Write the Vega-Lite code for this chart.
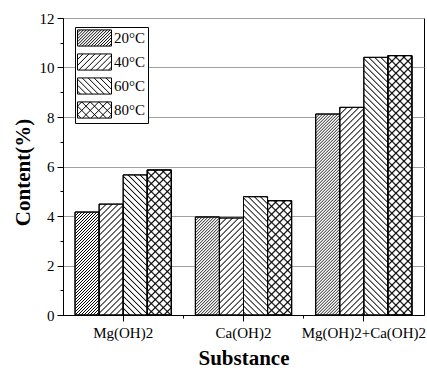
{
"$schema":"https://vega.github.io/schema/vega-lite/v6.json",
"width":361,"height":297,
"autosize":"none",
"padding":{"left":63,"top":18,"right":3,"bottom":55},
"params":[
{"name":"dense","value":[{"offset":0,"color":"#0000"},{"offset":0.003,"color":"#000"},{"offset":0.006,"color":"#0000"},{"offset":0.01,"color":"#0000"},{"offset":0.013,"color":"#000"},{"offset":0.016,"color":"#0000"},{"offset":0.02,"color":"#0000"},{"offset":0.023,"color":"#000"},{"offset":0.026,"color":"#0000"},{"offset":0.03,"color":"#0000"},{"offset":0.033,"color":"#000"},{"offset":0.036,"color":"#0000"},{"offset":0.04,"color":"#0000"},{"offset":0.043,"color":"#000"},{"offset":0.046,"color":"#0000"},{"offset":0.05,"color":"#0000"},{"offset":0.053,"color":"#000"},{"offset":0.056,"color":"#0000"},{"offset":0.06,"color":"#0000"},{"offset":0.063,"color":"#000"},{"offset":0.066,"color":"#0000"},{"offset":0.07,"color":"#0000"},{"offset":0.073,"color":"#000"},{"offset":0.076,"color":"#0000"},{"offset":0.08,"color":"#0000"},{"offset":0.083,"color":"#000"},{"offset":0.086,"color":"#0000"},{"offset":0.09,"color":"#0000"},{"offset":0.093,"color":"#000"},{"offset":0.096,"color":"#0000"},{"offset":0.1,"color":"#0000"},{"offset":0.103,"color":"#000"},{"offset":0.106,"color":"#0000"},{"offset":0.11,"color":"#0000"},{"offset":0.113,"color":"#000"},{"offset":0.116,"color":"#0000"},{"offset":0.12,"color":"#0000"},{"offset":0.123,"color":"#000"},{"offset":0.126,"color":"#0000"},{"offset":0.13,"color":"#0000"},{"offset":0.133,"color":"#000"},{"offset":0.136,"color":"#0000"},{"offset":0.14,"color":"#0000"},{"offset":0.143,"color":"#000"},{"offset":0.146,"color":"#0000"},{"offset":0.15,"color":"#0000"},{"offset":0.153,"color":"#000"},{"offset":0.156,"color":"#0000"},{"offset":0.16,"color":"#0000"},{"offset":0.163,"color":"#000"},{"offset":0.166,"color":"#0000"},{"offset":0.17,"color":"#0000"},{"offset":0.173,"color":"#000"},{"offset":0.176,"color":"#0000"},{"offset":0.18,"color":"#0000"},{"offset":0.183,"color":"#000"},{"offset":0.186,"color":"#0000"},{"offset":0.19,"color":"#0000"},{"offset":0.193,"color":"#000"},{"offset":0.196,"color":"#0000"},{"offset":0.2,"color":"#0000"},{"offset":0.203,"color":"#000"},{"offset":0.206,"color":"#0000"},{"offset":0.21,"color":"#0000"},{"offset":0.213,"color":"#000"},{"offset":0.216,"color":"#0000"},{"offset":0.22,"color":"#0000"},{"offset":0.223,"color":"#000"},{"offset":0.226,"color":"#0000"},{"offset":0.23,"color":"#0000"},{"offset":0.233,"color":"#000"},{"offset":0.236,"color":"#0000"},{"offset":0.24,"color":"#0000"},{"offset":0.243,"color":"#000"},{"offset":0.246,"color":"#0000"},{"offset":0.25,"color":"#0000"},{"offset":0.253,"color":"#000"},{"offset":0.256,"color":"#0000"},{"offset":0.26,"color":"#0000"},{"offset":0.263,"color":"#000"},{"offset":0.266,"color":"#0000"},{"offset":0.27,"color":"#0000"},{"offset":0.273,"color":"#000"},{"offset":0.276,"color":"#0000"},{"offset":0.28,"color":"#0000"},{"offset":0.283,"color":"#000"},{"offset":0.286,"color":"#0000"},{"offset":0.29,"color":"#0000"},{"offset":0.293,"color":"#000"},{"offset":0.296,"color":"#0000"},{"offset":0.3,"color":"#0000"},{"offset":0.303,"color":"#000"},{"offset":0.306,"color":"#0000"},{"offset":0.31,"color":"#0000"},{"offset":0.313,"color":"#000"},{"offset":0.316,"color":"#0000"},{"offset":0.32,"color":"#0000"},{"offset":0.323,"color":"#000"},{"offset":0.326,"color":"#0000"},{"offset":0.33,"color":"#0000"},{"offset":0.333,"color":"#000"},{"offset":0.336,"color":"#0000"},{"offset":0.34,"color":"#0000"},{"offset":0.343,"color":"#000"},{"offset":0.346,"color":"#0000"},{"offset":0.35,"color":"#0000"},{"offset":0.353,"color":"#000"},{"offset":0.356,"color":"#0000"},{"offset":0.36,"color":"#0000"},{"offset":0.363,"color":"#000"},{"offset":0.366,"color":"#0000"},{"offset":0.37,"color":"#0000"},{"offset":0.373,"color":"#000"},{"offset":0.376,"color":"#0000"},{"offset":0.38,"color":"#0000"},{"offset":0.383,"color":"#000"},{"offset":0.386,"color":"#0000"},{"offset":0.39,"color":"#0000"},{"offset":0.393,"color":"#000"},{"offset":0.396,"color":"#0000"},{"offset":0.4,"color":"#0000"},{"offset":0.403,"color":"#000"},{"offset":0.406,"color":"#0000"},{"offset":0.41,"color":"#0000"},{"offset":0.413,"color":"#000"},{"offset":0.416,"color":"#0000"},{"offset":0.42,"color":"#0000"},{"offset":0.423,"color":"#000"},{"offset":0.426,"color":"#0000"},{"offset":0.43,"color":"#0000"},{"offset":0.433,"color":"#000"},{"offset":0.436,"color":"#0000"},{"offset":0.44,"color":"#0000"},{"offset":0.443,"color":"#000"},{"offset":0.446,"color":"#0000"},{"offset":0.45,"color":"#0000"},{"offset":0.453,"color":"#000"},{"offset":0.456,"color":"#0000"},{"offset":0.46,"color":"#0000"},{"offset":0.463,"color":"#000"},{"offset":0.466,"color":"#0000"},{"offset":0.47,"color":"#0000"},{"offset":0.473,"color":"#000"},{"offset":0.476,"color":"#0000"},{"offset":0.48,"color":"#0000"},{"offset":0.483,"color":"#000"},{"offset":0.486,"color":"#0000"},{"offset":0.49,"color":"#0000"},{"offset":0.493,"color":"#000"},{"offset":0.496,"color":"#0000"},{"offset":0.5,"color":"#0000"},{"offset":0.503,"color":"#000"},{"offset":0.506,"color":"#0000"},{"offset":0.51,"color":"#0000"},{"offset":0.513,"color":"#000"},{"offset":0.516,"color":"#0000"},{"offset":0.52,"color":"#0000"},{"offset":0.523,"color":"#000"},{"offset":0.526,"color":"#0000"},{"offset":0.53,"color":"#0000"},{"offset":0.533,"color":"#000"},{"offset":0.536,"color":"#0000"},{"offset":0.54,"color":"#0000"},{"offset":0.543,"color":"#000"},{"offset":0.546,"color":"#0000"},{"offset":0.55,"color":"#0000"},{"offset":0.553,"color":"#000"},{"offset":0.556,"color":"#0000"},{"offset":0.56,"color":"#0000"},{"offset":0.563,"color":"#000"},{"offset":0.566,"color":"#0000"},{"offset":0.57,"color":"#0000"},{"offset":0.573,"color":"#000"},{"offset":0.576,"color":"#0000"},{"offset":0.58,"color":"#0000"},{"offset":0.583,"color":"#000"},{"offset":0.586,"color":"#0000"},{"offset":0.59,"color":"#0000"},{"offset":0.593,"color":"#000"},{"offset":0.596,"color":"#0000"},{"offset":0.6,"color":"#0000"},{"offset":0.603,"color":"#000"},{"offset":0.606,"color":"#0000"},{"offset":0.61,"color":"#0000"},{"offset":0.613,"color":"#000"},{"offset":0.616,"color":"#0000"},{"offset":0.62,"color":"#0000"},{"offset":0.623,"color":"#000"},{"offset":0.626,"color":"#0000"},{"offset":0.63,"color":"#0000"},{"offset":0.633,"color":"#000"},{"offset":0.636,"color":"#0000"},{"offset":0.64,"color":"#0000"},{"offset":0.643,"color":"#000"},{"offset":0.646,"color":"#0000"},{"offset":0.65,"color":"#0000"},{"offset":0.653,"color":"#000"},{"offset":0.656,"color":"#0000"},{"offset":0.66,"color":"#0000"},{"offset":0.663,"color":"#000"},{"offset":0.666,"color":"#0000"},{"offset":0.67,"color":"#0000"},{"offset":0.673,"color":"#000"},{"offset":0.676,"color":"#0000"},{"offset":0.68,"color":"#0000"},{"offset":0.683,"color":"#000"},{"offset":0.686,"color":"#0000"},{"offset":0.69,"color":"#0000"},{"offset":0.693,"color":"#000"},{"offset":0.696,"color":"#0000"},{"offset":0.7,"color":"#0000"},{"offset":0.703,"color":"#000"},{"offset":0.706,"color":"#0000"},{"offset":0.71,"color":"#0000"},{"offset":0.713,"color":"#000"},{"offset":0.716,"color":"#0000"},{"offset":0.72,"color":"#0000"},{"offset":0.723,"color":"#000"},{"offset":0.726,"color":"#0000"},{"offset":0.73,"color":"#0000"},{"offset":0.733,"color":"#000"},{"offset":0.736,"color":"#0000"},{"offset":0.74,"color":"#0000"},{"offset":0.743,"color":"#000"},{"offset":0.746,"color":"#0000"},{"offset":0.75,"color":"#0000"},{"offset":0.753,"color":"#000"},{"offset":0.756,"color":"#0000"},{"offset":0.76,"color":"#0000"},{"offset":0.763,"color":"#000"},{"offset":0.766,"color":"#0000"},{"offset":0.77,"color":"#0000"},{"offset":0.773,"color":"#000"},{"offset":0.776,"color":"#0000"}]},
{"name":"sparse","value":[{"offset":0,"color":"#0000"},{"offset":0.004,"color":"#000"},{"offset":0.008,"color":"#0000"},{"offset":0.02,"color":"#0000"},{"offset":0.024,"color":"#000"},{"offset":0.028,"color":"#0000"},{"offset":0.04,"color":"#0000"},{"offset":0.044,"color":"#000"},{"offset":0.048,"color":"#0000"},{"offset":0.06,"color":"#0000"},{"offset":0.064,"color":"#000"},{"offset":0.068,"color":"#0000"},{"offset":0.08,"color":"#0000"},{"offset":0.084,"color":"#000"},{"offset":0.088,"color":"#0000"},{"offset":0.1,"color":"#0000"},{"offset":0.104,"color":"#000"},{"offset":0.108,"color":"#0000"},{"offset":0.12,"color":"#0000"},{"offset":0.124,"color":"#000"},{"offset":0.128,"color":"#0000"},{"offset":0.14,"color":"#0000"},{"offset":0.144,"color":"#000"},{"offset":0.148,"color":"#0000"},{"offset":0.16,"color":"#0000"},{"offset":0.164,"color":"#000"},{"offset":0.168,"color":"#0000"},{"offset":0.18,"color":"#0000"},{"offset":0.184,"color":"#000"},{"offset":0.188,"color":"#0000"},{"offset":0.2,"color":"#0000"},{"offset":0.204,"color":"#000"},{"offset":0.208,"color":"#0000"},{"offset":0.22,"color":"#0000"},{"offset":0.224,"color":"#000"},{"offset":0.228,"color":"#0000"},{"offset":0.24,"color":"#0000"},{"offset":0.244,"color":"#000"},{"offset":0.248,"color":"#0000"},{"offset":0.26,"color":"#0000"},{"offset":0.264,"color":"#000"},{"offset":0.268,"color":"#0000"},{"offset":0.28,"color":"#0000"},{"offset":0.284,"color":"#000"},{"offset":0.288,"color":"#0000"},{"offset":0.3,"color":"#0000"},{"offset":0.304,"color":"#000"},{"offset":0.308,"color":"#0000"},{"offset":0.32,"color":"#0000"},{"offset":0.324,"color":"#000"},{"offset":0.328,"color":"#0000"},{"offset":0.34,"color":"#0000"},{"offset":0.344,"color":"#000"},{"offset":0.348,"color":"#0000"},{"offset":0.36,"color":"#0000"},{"offset":0.364,"color":"#000"},{"offset":0.368,"color":"#0000"},{"offset":0.38,"color":"#0000"},{"offset":0.384,"color":"#000"},{"offset":0.388,"color":"#0000"},{"offset":0.4,"color":"#0000"},{"offset":0.404,"color":"#000"},{"offset":0.408,"color":"#0000"},{"offset":0.42,"color":"#0000"},{"offset":0.424,"color":"#000"},{"offset":0.428,"color":"#0000"},{"offset":0.44,"color":"#0000"},{"offset":0.444,"color":"#000"},{"offset":0.448,"color":"#0000"},{"offset":0.46,"color":"#0000"},{"offset":0.464,"color":"#000"},{"offset":0.468,"color":"#0000"},{"offset":0.48,"color":"#0000"},{"offset":0.484,"color":"#000"},{"offset":0.488,"color":"#0000"},{"offset":0.5,"color":"#0000"},{"offset":0.504,"color":"#000"},{"offset":0.508,"color":"#0000"},{"offset":0.52,"color":"#0000"},{"offset":0.524,"color":"#000"},{"offset":0.528,"color":"#0000"},{"offset":0.54,"color":"#0000"},{"offset":0.544,"color":"#000"},{"offset":0.548,"color":"#0000"},{"offset":0.56,"color":"#0000"},{"offset":0.564,"color":"#000"},{"offset":0.568,"color":"#0000"},{"offset":0.58,"color":"#0000"},{"offset":0.584,"color":"#000"},{"offset":0.588,"color":"#0000"},{"offset":0.6,"color":"#0000"},{"offset":0.604,"color":"#000"},{"offset":0.608,"color":"#0000"},{"offset":0.62,"color":"#0000"},{"offset":0.624,"color":"#000"},{"offset":0.628,"color":"#0000"},{"offset":0.64,"color":"#0000"},{"offset":0.644,"color":"#000"},{"offset":0.648,"color":"#0000"},{"offset":0.66,"color":"#0000"},{"offset":0.664,"color":"#000"},{"offset":0.668,"color":"#0000"},{"offset":0.68,"color":"#0000"},{"offset":0.684,"color":"#000"},{"offset":0.688,"color":"#0000"},{"offset":0.7,"color":"#0000"},{"offset":0.704,"color":"#000"},{"offset":0.708,"color":"#0000"},{"offset":0.72,"color":"#0000"},{"offset":0.724,"color":"#000"},{"offset":0.728,"color":"#0000"},{"offset":0.74,"color":"#0000"},{"offset":0.744,"color":"#000"},{"offset":0.748,"color":"#0000"},{"offset":0.76,"color":"#0000"},{"offset":0.764,"color":"#000"},{"offset":0.768,"color":"#0000"},{"offset":0.78,"color":"#0000"},{"offset":0.784,"color":"#000"},{"offset":0.788,"color":"#0000"},{"offset":0.8,"color":"#0000"},{"offset":0.804,"color":"#000"},{"offset":0.808,"color":"#0000"},{"offset":0.82,"color":"#0000"},{"offset":0.824,"color":"#000"},{"offset":0.828,"color":"#0000"},{"offset":0.84,"color":"#0000"},{"offset":0.844,"color":"#000"},{"offset":0.848,"color":"#0000"},{"offset":0.86,"color":"#0000"},{"offset":0.864,"color":"#000"},{"offset":0.868,"color":"#0000"},{"offset":0.88,"color":"#0000"},{"offset":0.884,"color":"#000"},{"offset":0.888,"color":"#0000"},{"offset":0.9,"color":"#0000"},{"offset":0.904,"color":"#000"},{"offset":0.908,"color":"#0000"},{"offset":0.92,"color":"#0000"},{"offset":0.924,"color":"#000"},{"offset":0.928,"color":"#0000"},{"offset":0.94,"color":"#0000"},{"offset":0.944,"color":"#000"},{"offset":0.948,"color":"#0000"},{"offset":0.96,"color":"#0000"},{"offset":0.964,"color":"#000"},{"offset":0.968,"color":"#0000"},{"offset":0.98,"color":"#0000"},{"offset":0.984,"color":"#000"},{"offset":0.988,"color":"#0000"}]}
],
"data":{"values":[
{"s":"Mg(OH)2","t":"20°C","v":4.16},{"s":"Mg(OH)2","t":"40°C","v":4.48},{"s":"Mg(OH)2","t":"60°C","v":5.66},{"s":"Mg(OH)2","t":"80°C","v":5.86},
{"s":"Ca(OH)2","t":"20°C","v":3.96},{"s":"Ca(OH)2","t":"40°C","v":3.92},{"s":"Ca(OH)2","t":"60°C","v":4.78},{"s":"Ca(OH)2","t":"80°C","v":4.62},
{"s":"Mg(OH)2+Ca(OH)2","t":"20°C","v":8.12},{"s":"Mg(OH)2+Ca(OH)2","t":"40°C","v":8.39},{"s":"Mg(OH)2+Ca(OH)2","t":"60°C","v":10.41},{"s":"Mg(OH)2+Ca(OH)2","t":"80°C","v":10.48}
]},
"layer":[
{"mark":{"type":"bar","stroke":"black","strokeWidth":1},
 "encoding":{
  "x":{"field":"s","type":"nominal","scale":{"domain":["Mg(OH)2","Ca(OH)2","Mg(OH)2+Ca(OH)2"],"paddingInner":0.2,"paddingOuter":0.1},"axis":{"title":"Substance","labelAngle":0,"tickSize":6,"labelPadding":4,"titlePadding":7,"labelFont":"Liberation Serif","titleFont":"Liberation Serif"}},
  "xOffset":{"field":"t","type":"nominal","scale":{"domain":["20°C","40°C","60°C","80°C"],"paddingInner":0,"paddingOuter":0}},
  "y":{"field":"v","type":"quantitative","stack":null,"scale":{"domain":[0,12],"nice":false},"axis":{"title":"Content(%)","values":[0,2,4,6,8,10,12],"tickSize":6,"labelPadding":3,"grid":true,"gridColor":"#a0a0a0","titlePadding":6,"titleY":154,"labelFont":"Liberation Serif","titleFont":"Liberation Serif"}},
  "fill":{"field":"t","type":"nominal","scale":{"domain":["20°C","40°C","60°C","80°C"],"range":["white","white","white","white"]},
   "legend":{"title":null,"orient":"none","legendX":12,"legendY":9,"padding":2,"strokeColor":"black","fillColor":"white","labelFont":"Liberation Serif","labelFontSize":15,"labelColor":"black","symbolSize":289,"labelOffset":19,"rowPadding":2,"symbolStrokeColor":"black","symbolStrokeWidth":1,
    "encode":{"symbols":{"update":{"fill":{"value":"white"},"stroke":{"value":"black"},"strokeWidth":{"value":1},"shape":{"signal":"datum.value=='20°C'?'M-1,-0.95H3V0.95H-1ZM-1,-0.6L-0.65,-0.95M-1,-0.25L-0.3,-0.95M-1,0.1L0.05,-0.95M-1,0.45L0.4,-0.95M-1,0.8L0.75,-0.95M-0.8,0.95L1.1,-0.95M-0.45,0.95L1.45,-0.95M-0.1,0.95L1.8,-0.95M0.25,0.95L2.15,-0.95M0.6,0.95L2.5,-0.95M0.95,0.95L2.85,-0.95M1.3,0.95L3,-0.75M1.65,0.95L3,-0.4M2,0.95L3,-0.05M2.35,0.95L3,0.3M2.7,0.95L3,0.65':datum.value=='40°C'?'M-1,-0.95H3V0.95H-1ZM-1,-0.3L-0.35,-0.95M-1,0.4L0.35,-0.95M-0.85,0.95L1.05,-0.95M-0.15,0.95L1.75,-0.95M0.55,0.95L2.45,-0.95M1.25,0.95L3,-0.8M1.95,0.95L3,-0.1M2.65,0.95L3,0.6':datum.value=='60°C'?'M-1,-0.95H3V0.95H-1ZM3,-0.3L2.35,-0.95M3,0.4L1.65,-0.95M2.85,0.95L0.95,-0.95M2.15,0.95L0.25,-0.95M1.45,0.95L-0.45,-0.95M0.75,0.95L-1,-0.8M0.05,0.95L-1,-0.1M-0.65,0.95L-1,0.6':'M-1,-0.95H3V0.95H-1ZM-1,-0.45L-0.5,-0.95M-1,0.55L0.5,-0.95M-0.4,0.95L1.5,-0.95M0.6,0.95L2.5,-0.95M1.6,0.95L3,-0.45M2.6,0.95L3,0.55M3,-0.45L2.5,-0.95M3,0.55L1.5,-0.95M2.4,0.95L0.5,-0.95M1.4,0.95L-0.5,-0.95M0.4,0.95L-1,-0.45M-0.6,0.95L-1,0.55'"}}}}}}
 }},
{"mark":{"type":"bar","stroke":"black","strokeWidth":1,"fill":{"expr":"{gradient:'linear',x1:datum.t=='60°C'?1:0,y1:0,x2:datum.t=='60°C'?1-7200/(576+pow(scale('y',0)-scale('y',datum.v),2)):(datum.t=='80°C'?9600:7200)/(576+pow(scale('y',0)-scale('y',datum.v),2)),y2:(datum.t=='80°C'?400:300)*(scale('y',0)-scale('y',datum.v))/(576+pow(scale('y',0)-scale('y',datum.v),2)),stops:datum.t=='20°C'?dense:sparse}"}},
 "encoding":{
  "x":{"field":"s","type":"nominal","scale":{"domain":["Mg(OH)2","Ca(OH)2","Mg(OH)2+Ca(OH)2"],"paddingInner":0.2,"paddingOuter":0.1},"axis":{"orient":"bottom","values":["Mg(OH)2","Ca(OH)2"],"bandPosition":1.125,"tickSize":3,"labels":false,"domain":false,"grid":false,"title":null}},
  "xOffset":{"field":"t","type":"nominal","scale":{"domain":["20°C","40°C","60°C","80°C"],"paddingInner":0,"paddingOuter":0}},
  "y":{"field":"v","type":"quantitative","stack":null,"scale":{"domain":[0,12],"nice":false},"axis":{"orient":"left","values":[1,3,5,7,9,11],"tickSize":3,"labels":false,"domain":false,"grid":false,"title":null}}
 }},
{"transform":[{"filter":"datum.t=='80°C'"}],
 "mark":{"type":"bar","stroke":"black","strokeWidth":1,"fill":{"expr":"{gradient:'linear',x1:1,y1:0,x2:1-9600/(576+pow(scale('y',0)-scale('y',datum.v),2)),y2:400*(scale('y',0)-scale('y',datum.v))/(576+pow(scale('y',0)-scale('y',datum.v),2)),stops:sparse}"}},
 "encoding":{
  "x":{"field":"s","type":"nominal","scale":{"domain":["Mg(OH)2","Ca(OH)2","Mg(OH)2+Ca(OH)2"],"paddingInner":0.2,"paddingOuter":0.1},"axis":null},
  "xOffset":{"field":"t","type":"nominal","scale":{"domain":["20°C","40°C","60°C","80°C"],"paddingInner":0,"paddingOuter":0}},
  "y":{"field":"v","type":"quantitative","stack":null,"scale":{"domain":[0,12],"nice":false},"axis":null}
 }}
],
"resolve":{"axis":{"x":"independent","y":"independent"}},
"config":{
 "font":"Liberation Serif",
 "view":{"stroke":"black","strokeWidth":1},
 "axis":{"labelFont":"Liberation Serif","labelFontSize":15,"labelColor":"black","titleFont":"Liberation Serif","titleFontSize":21,"titleFontWeight":"bold","titleColor":"black","domainColor":"black","tickColor":"black","domainWidth":1,"tickWidth":1}
}
}
